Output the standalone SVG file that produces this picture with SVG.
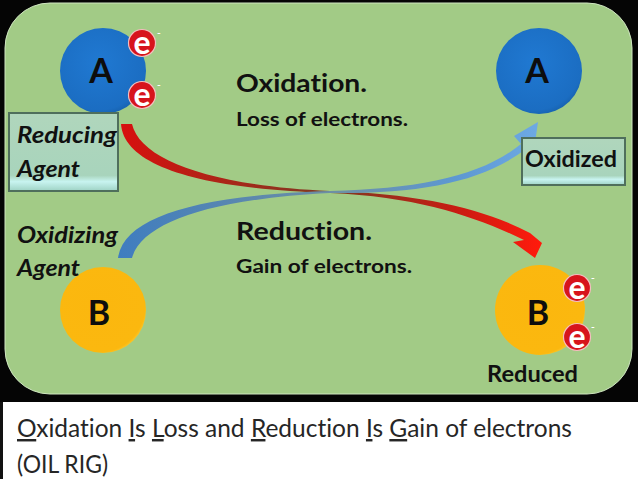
<svg xmlns="http://www.w3.org/2000/svg" width="638" height="479" viewBox="0 0 638 479">
<defs>
<style>
text{font-variant-ligatures:none;font-feature-settings:"liga" 0,"clig" 0}
.lbl{font-family:Lato,"Open Sans",sans-serif;font-weight:bold;fill:#111}
.it{font-style:italic}
.big{font-family:Lato,"Open Sans",sans-serif;font-weight:bold;fill:#0d0d0d}
.el{font-family:Lato,"Open Sans",sans-serif;font-weight:bold;fill:#fff;font-size:32px;text-anchor:middle}
.ecirc{fill:#d7141c;stroke:#f3c0c0;stroke-width:1.2}
.minus{font-family:Lato,sans-serif;font-size:10px;font-weight:bold;fill:#fff}
.box{fill:url(#boxg);stroke:#4f6f5c;stroke-width:2}
.foot{font-family:Lato,"Open Sans",sans-serif;fill:#262626;font-size:24.5px}
.u{text-decoration:underline}
</style>
<radialGradient id="blueg" cx="0.45" cy="0.4" r="0.65">
<stop offset="0" stop-color="#2079d2"/><stop offset="0.85" stop-color="#1b6dc2"/><stop offset="1" stop-color="#155ea8"/>
</radialGradient>
<radialGradient id="orag" cx="0.45" cy="0.45" r="0.6">
<stop offset="0" stop-color="#fbb70e"/><stop offset="0.9" stop-color="#fbb80f"/><stop offset="1" stop-color="#fcd23c"/>
</radialGradient>
<linearGradient id="boxg" x1="0" y1="0" x2="0" y2="1">
<stop offset="0" stop-color="#b0d6bc"/><stop offset="0.8" stop-color="#a8d4bc"/><stop offset="0.88" stop-color="#c8f4f0"/><stop offset="1" stop-color="#9ed2c4"/>
</linearGradient>
<linearGradient id="redL" gradientUnits="userSpaceOnUse" x1="120" y1="0" x2="330" y2="0">
<stop offset="0" stop-color="#d8100e"/><stop offset="1" stop-color="#7d3a22"/>
</linearGradient>
<linearGradient id="redR" gradientUnits="userSpaceOnUse" x1="330" y1="0" x2="540" y2="0">
<stop offset="0" stop-color="#7d3a22"/><stop offset="0.6" stop-color="#c81c12"/><stop offset="1" stop-color="#ff1a0c"/>
</linearGradient>
<linearGradient id="bluL" gradientUnits="userSpaceOnUse" x1="118" y1="0" x2="330" y2="0">
<stop offset="0" stop-color="#3f7dc0"/><stop offset="1" stop-color="#6d8fa3"/>
</linearGradient>
<linearGradient id="bluR" gradientUnits="userSpaceOnUse" x1="330" y1="0" x2="540" y2="0">
<stop offset="0" stop-color="#6d8fa3"/><stop offset="0.6" stop-color="#5d98d2"/><stop offset="1" stop-color="#6eaae4"/>
</linearGradient>
</defs>

<rect x="0" y="0" width="638" height="479" fill="#ffffff"/>
<rect x="0" y="0" width="638" height="402" fill="#050505"/>
<rect x="0" y="402" width="3" height="77" fill="#111"/>
<rect x="5" y="3" width="627" height="391" rx="45" ry="45" fill="#a2cb86" stroke="#cfe6c0" stroke-width="1"/>

<g id="connectors">
<path d="M121 124 C124 166 200 189 330 193 L330 191 C212 186 140 160 132 124 Z" fill="url(#redL)"/>
<path d="M330 191 C420 194 482 208 530 233 L542 243 L535 258 L513 242 L524 240 C476 217 420 197 330 193 Z" fill="url(#redR)"/>
<path d="M118 258 C124 216 200 195 330 191 L330 193 C212 199 142 222 132 258 Z" fill="url(#bluL)"/>
<path d="M330 191 C420 189 482 176 521 144 L514 136 L538 122 L534 150 L527 148 C484 182 420 194 330 193 Z" fill="url(#bluR)"/>
</g>

<g id="nodeA1">
<circle cx="103" cy="71" r="43" fill="url(#blueg)"/>
<text class="big" x="101" y="83" font-size="34" text-anchor="middle">A</text>
<circle class="ecirc" cx="142" cy="43" r="13.5"/>
<text class="el" x="142" y="54">e</text>
<circle class="ecirc" cx="142" cy="95" r="13.5"/>
<text class="el" x="142" y="106">e</text>
<text class="minus" x="157" y="36">-</text>
<text class="minus" x="157" y="88">-</text>
</g>

<g id="reducingAgent">
<rect class="box" x="9" y="113" width="109" height="78"/>
<text class="lbl it" x="17" y="143" font-size="23" textLength="100" lengthAdjust="spacingAndGlyphs">Reducing</text>
<text class="lbl it" x="17" y="177" font-size="23" textLength="63" lengthAdjust="spacingAndGlyphs">Agent</text>
</g>

<g id="nodeA2">
<circle cx="539" cy="71" r="43" fill="url(#blueg)"/>
<text class="big" x="537" y="83" font-size="34" text-anchor="middle">A</text>
</g>

<g id="oxidized">
<rect class="box" x="522" y="138" width="103" height="47"/>
<text class="lbl" x="525" y="167" font-size="22" textLength="92" lengthAdjust="spacingAndGlyphs">Oxidized</text>
</g>

<g id="nodeB1">
<circle cx="103" cy="310" r="43" fill="url(#orag)"/>
<text class="big" x="99" y="325" font-size="34" text-anchor="middle">B</text>
</g>

<g id="oxidizingAgent">
<text class="lbl it" x="17" y="243" font-size="23" textLength="101" lengthAdjust="spacingAndGlyphs">Oxidizing</text>
<text class="lbl it" x="17" y="276" font-size="23" textLength="63" lengthAdjust="spacingAndGlyphs">Agent</text>
</g>

<g id="nodeB2">
<circle cx="540" cy="310" r="45" fill="url(#orag)"/>
<text class="big" x="538" y="325" font-size="34" text-anchor="middle">B</text>
<circle class="ecirc" cx="577" cy="288" r="13.5"/>
<text class="el" x="577" y="299">e</text>
<circle class="ecirc" cx="577" cy="337" r="13.5"/>
<text class="el" x="577" y="348">e</text>
<text class="minus" x="591" y="281">-</text>
<text class="minus" x="591" y="330">-</text>
<text class="lbl" x="487" y="382" font-size="22" textLength="91" lengthAdjust="spacingAndGlyphs">Reduced</text>
</g>

<g id="oxidation">
<text class="lbl" x="236" y="92" font-size="24" textLength="131" lengthAdjust="spacingAndGlyphs">Oxidation.</text>
<text class="lbl" x="236" y="126" font-size="19" textLength="172" lengthAdjust="spacingAndGlyphs">Loss of electrons.</text>
</g>

<g id="reduction">
<text class="lbl" x="236" y="240" font-size="24" textLength="136" lengthAdjust="spacingAndGlyphs">Reduction.</text>
<text class="lbl" x="236" y="273" font-size="19" textLength="176" lengthAdjust="spacingAndGlyphs">Gain of electrons.</text>
</g>

<g id="caption">
<text class="foot" x="17" y="437"><tspan class="u">O</tspan>xidation <tspan class="u">I</tspan>s <tspan class="u">L</tspan>oss and <tspan class="u">R</tspan>eduction <tspan class="u">I</tspan>s <tspan class="u">G</tspan>ain of electrons</text>
<text class="foot" x="17" y="473" textLength="91" lengthAdjust="spacingAndGlyphs">(OIL RIG)</text>
</g>
</svg>
